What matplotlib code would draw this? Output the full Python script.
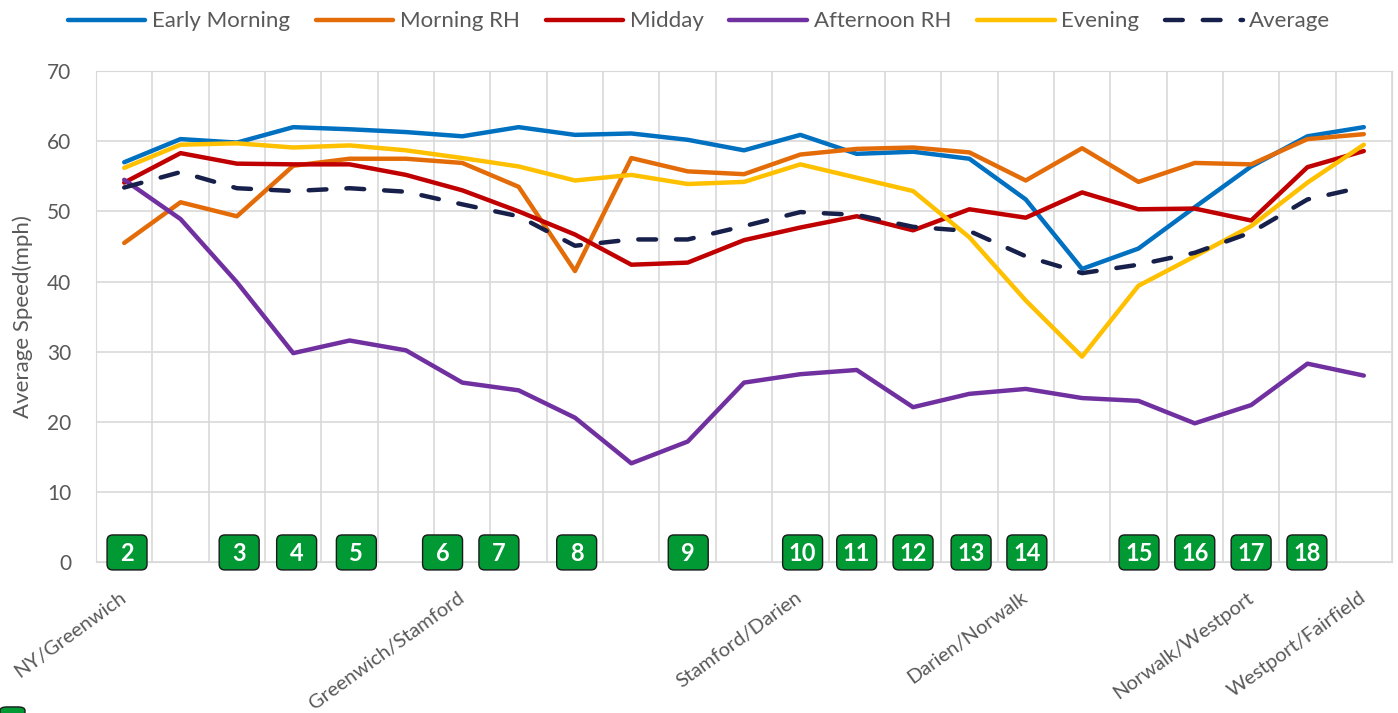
import matplotlib.pyplot as plt
from matplotlib.patches import FancyBboxPatch

# segment labels along the corridor (only a few are named)
segment_labels = ["NY/Greenwich", "", "", "", "", "", "Greenwich/Stamford", "", "", "", "", "",
                  "Stamford/Darien", "", "", "", "Darien/Norwalk", "", "", "", "Norwalk/Westport", "",
                  "Westport/Fairfield"]

early_morning = [57.0, 60.3, 59.8, 62.0, 61.7, 61.3, 60.7, 62.0, 60.9, 61.1, 60.2, 58.7,
                 60.9, 58.2, 58.5, 57.5, 51.7, 41.8, 44.7, 50.6, 56.4, 60.7, 62.0]
morning_rh = [45.5, 51.3, 49.3, 56.5, 57.5, 57.5, 56.9, 53.5, 41.5, 57.6, 55.7, 55.3,
              58.1, 58.9, 59.1, 58.4, 54.4, 59.0, 54.2, 56.9, 56.7, 60.3, 61.0]
midday = [54.1, 58.3, 56.8, 56.7, 56.7, 55.2, 53.0, 50.0, 46.7, 42.4, 42.7, 45.9,
          47.7, 49.3, 47.3, 50.3, 49.1, 52.7, 50.3, 50.4, 48.7, 56.3, 58.6]
afternoon_rh = [54.5, 48.9, 39.9, 29.8, 31.6, 30.2, 25.6, 24.5, 20.6, 14.1, 17.2, 25.6,
                26.8, 27.4, 22.1, 24.0, 24.7, 23.4, 23.0, 19.8, 22.4, 28.3, 26.6]
evening = [56.2, 59.5, 59.7, 59.1, 59.4, 58.7, 57.6, 56.4, 54.4, 55.2, 53.9, 54.2,
           56.7, 54.8, 52.9, 46.3, 37.3, 29.3, 39.4, 43.6, 47.9, 54.1, 59.5]
average = [53.4, 55.6, 53.3, 52.9, 53.3, 52.8, 51.0, 49.3, 45.1, 46.0, 46.0, 47.9,
           49.9, 49.5, 47.8, 47.2, 43.6, 41.2, 42.4, 44.1, 47.0, 51.7, 53.5]

# numbered exit markers and where they sit along the x axis
exit_numbers = [2, 3, 4, 5, 6, 7, 8, 9, 10, 11, 12, 13, 14, 15, 16, 17, 18]
exit_positions = [0.05, 2.04, 3.06, 4.12, 5.65, 6.65, 8.03, 10.01, 12.04, 13.0, 14.0,
                  15.03, 16.02, 18.01, 19.0, 20.0, 20.99]

plt.rcParams['font.family'] = ['Lato', 'DejaVu Sans']
grey = '#595959'

fig = plt.figure(figsize=(13.98, 7.13), dpi=100)
ax = fig.add_axes([0.0687, 0.2114, 0.927, 0.689])

x = list(range(len(segment_labels)))
series = [
    ("Early Morning", early_morning, '#0070C0'),
    ("Morning RH", morning_rh, '#E36C09'),
    ("Midday", midday, '#C00000'),
    ("Afternoon RH", afternoon_rh, '#7030A0'),
    ("Evening", evening, '#FFC000'),
]
for name, vals, col in series:
    ax.plot(x, vals, color=col, lw=3.2, label=name, solid_capstyle='round', zorder=3)
ax.plot(x, average, color='#17204A', lw=3.2, ls=(0, (4, 4.5)), dash_capstyle='round',
        label='Average', zorder=4)

ax.set_xlim(-0.5, len(x) - 0.5)
ax.set_ylim(0, 70)
ax.set_yticks(range(0, 71, 10))
ax.set_xticks(x)
ax.set_xticklabels(segment_labels, rotation=36, ha='right', va='center',
                   rotation_mode='anchor', fontsize=14.5, color=grey)
ax.tick_params(axis='x', length=0, pad=24)
ax.tick_params(axis='y', length=0, pad=18, labelsize=15, labelcolor=grey)

# vertical grid sits between categories, like Excel
ax.set_xticks([i - 0.5 for i in range(len(x) + 1)], minor=True)
ax.tick_params(axis='x', which='minor', length=0)
ax.grid(which='minor', axis='x', color='#d9d9d9', lw=1.2)
ax.grid(which='major', axis='y', color='#d9d9d9', lw=1.2)
ax.set_axisbelow(True)
for s in ax.spines.values():
    s.set_color('#d9d9d9')

ax.set_ylabel("Average Speed(mph)", fontsize=16, color=grey, labelpad=10)

# green exit boxes
px_per_x = 56.4
px_per_y = 7.02
bw = 40 / px_per_x
bh = 35 / px_per_y
for num, xp in zip(exit_numbers, exit_positions):
    box = FancyBboxPatch((xp - bw / 2, 1.4 - bh / 2), bw, bh,
                         boxstyle="round,pad=0,rounding_size=0.1",
                         mutation_aspect=px_per_x / px_per_y,
                         facecolor='#009933', edgecolor='#1a1a1a', lw=1,
                         clip_on=False, zorder=5)
    ax.add_patch(box)
    ax.text(xp, 1.3, str(num), ha='center', va='center', color='white',
            fontsize=17, fontweight='bold', zorder=6, clip_on=False)

# cut-off marker peeking in at the bottom-left corner
fig.patches.append(FancyBboxPatch((0, -0.01), 25 / 1398, 0.0185,
                                  boxstyle="round,pad=0,rounding_size=0.005",
                                  transform=fig.transFigure, facecolor='#009933',
                                  edgecolor='#1a1a1a', lw=1))

fig.legend(loc='center', bbox_to_anchor=(0.5, 0.97), ncol=6, frameon=False,
           fontsize=16, handlelength=3.5, columnspacing=1.15, handletextpad=0.3,
           labelcolor=grey)

fig.savefig('out.png', dpi=100)
